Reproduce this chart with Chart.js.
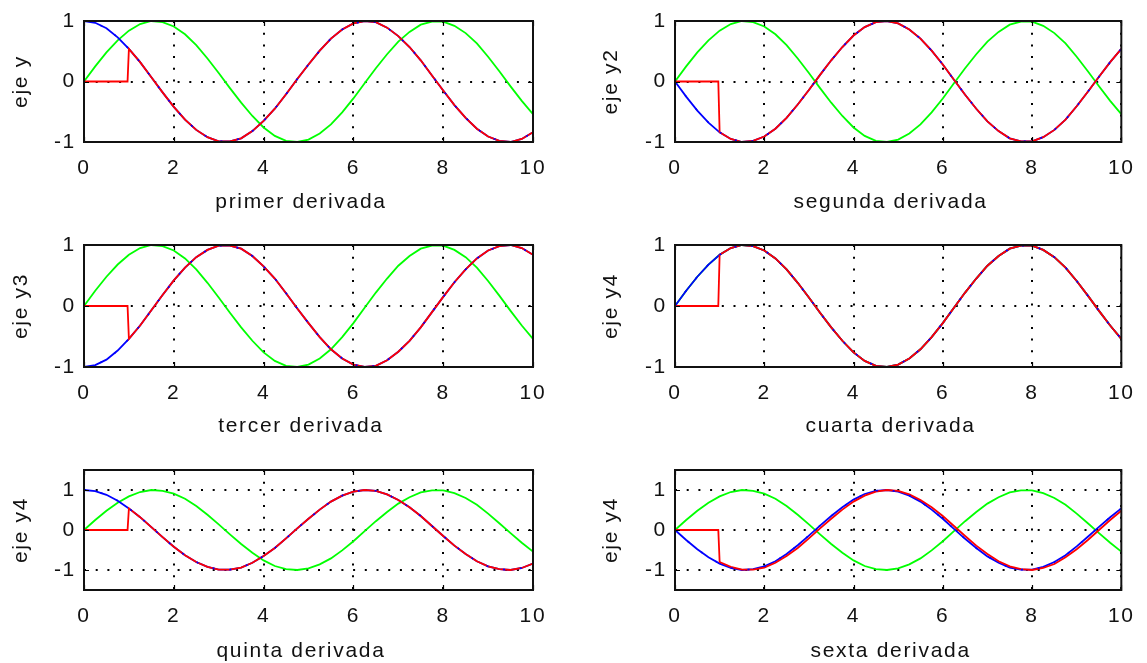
<!DOCTYPE html>
<html>
<head>
<meta charset="utf-8">
<title>derivadas</title>
<script src="https://cdn.jsdelivr.net/npm/chart.js@4.4.0/dist/chart.umd.min.js"></script>
<style>
  html, body { margin: 0; padding: 0; background: #fff; width: 1147px; height: 663px; overflow: hidden; }
  .panel { position: absolute; height: 224px; }
  .col-left { left: 0; width: 560px; }
  .col-right { left: 590px; width: 557px; }
</style>
</head>
<body>
<div class="panel col-left" style="top:0"><canvas id="c1"></canvas></div>
<div class="panel col-right" style="top:0"><canvas id="c2"></canvas></div>
<div class="panel col-left" style="top:224px"><canvas id="c3"></canvas></div>
<div class="panel col-right" style="top:224px"><canvas id="c4"></canvas></div>
<div class="panel col-left" style="top:449px"><canvas id="c5"></canvas></div>
<div class="panel col-right" style="top:449px"><canvas id="c6"></canvas></div>
<script>
// sample positions on the x axis (every 0.25)
const X_SAMPLES = [0, 0.25, 0.5, 0.75, 1, 1.25, 1.5, 1.75, 2, 2.25, 2.5, 2.75, 3, 3.25, 3.5, 3.75,
  4, 4.25, 4.5, 4.75, 5, 5.25, 5.5, 5.75, 6, 6.25, 6.5, 6.75, 7, 7.25, 7.5, 7.75,
  8, 8.25, 8.5, 8.75, 9, 9.25, 9.5, 9.75, 10];

// green curve (same in every panel)
const GREEN_WAVE = [0, 0.25, 0.48, 0.68, 0.84, 0.95, 1.00, 0.98, 0.91, 0.78, 0.60, 0.38, 0.14, -0.11, -0.35, -0.57,
  -0.76, -0.90, -0.98, -1.00, -0.96, -0.86, -0.71, -0.51, -0.28, -0.03, 0.22, 0.45, 0.66, 0.82, 0.94, 0.99,
  0.99, 0.92, 0.80, 0.63, 0.41, 0.17, -0.08, -0.32, -0.54];

// blue curves
const BLUE_COS = [1.00, 0.97, 0.88, 0.73, 0.54, 0.32, 0.07, -0.18, -0.42, -0.63, -0.80, -0.92, -0.99, -0.99, -0.94, -0.82,
  -0.65, -0.45, -0.21, 0.04, 0.28, 0.51, 0.71, 0.86, 0.96, 1.00, 0.98, 0.89, 0.75, 0.57, 0.35, 0.10,
  -0.15, -0.39, -0.60, -0.78, -0.91, -0.98, -1.00, -0.95, -0.84];
const BLUE_NEG_SIN = [0, -0.25, -0.48, -0.68, -0.84, -0.95, -1.00, -0.98, -0.91, -0.78, -0.60, -0.38, -0.14, 0.11, 0.35, 0.57,
  0.76, 0.90, 0.98, 1.00, 0.96, 0.86, 0.71, 0.51, 0.28, 0.03, -0.22, -0.45, -0.66, -0.82, -0.94, -0.99,
  -0.99, -0.92, -0.80, -0.63, -0.41, -0.17, 0.08, 0.32, 0.54];
const BLUE_NEG_COS = [-1.00, -0.97, -0.88, -0.73, -0.54, -0.32, -0.07, 0.18, 0.42, 0.63, 0.80, 0.92, 0.99, 0.99, 0.94, 0.82,
  0.65, 0.45, 0.21, -0.04, -0.28, -0.51, -0.71, -0.86, -0.96, -1.00, -0.98, -0.89, -0.75, -0.57, -0.35, -0.10,
  0.15, 0.39, 0.60, 0.78, 0.91, 0.98, 1.00, 0.95, 0.84];
const BLUE_SIN = [0, 0.25, 0.48, 0.68, 0.84, 0.95, 1.00, 0.98, 0.91, 0.78, 0.60, 0.38, 0.14, -0.11, -0.35, -0.57,
  -0.76, -0.90, -0.98, -1.00, -0.96, -0.86, -0.71, -0.51, -0.28, -0.03, 0.22, 0.45, 0.66, 0.82, 0.94, 0.99,
  0.99, 0.92, 0.80, 0.63, 0.41, 0.17, -0.08, -0.32, -0.54];

// red curves: zero until the step near x = 1
const RED_X = [0, 0.97, 1, 1.25, 1.5, 1.75, 2, 2.25, 2.5, 2.75, 3, 3.25, 3.5, 3.75,
  4, 4.25, 4.5, 4.75, 5, 5.25, 5.5, 5.75, 6, 6.25, 6.5, 6.75, 7, 7.25, 7.5, 7.75,
  8, 8.25, 8.5, 8.75, 9, 9.25, 9.5, 9.75, 10];
const RED_1 = [0, 0, 0.54, 0.32, 0.07, -0.18, -0.42, -0.63, -0.80, -0.92, -0.99, -0.99, -0.94, -0.82,
  -0.65, -0.45, -0.21, 0.04, 0.28, 0.51, 0.71, 0.86, 0.96, 1.00, 0.98, 0.89, 0.75, 0.57, 0.35, 0.10,
  -0.15, -0.39, -0.60, -0.78, -0.91, -0.98, -1.00, -0.95, -0.84];
const RED_2 = [0, 0, -0.84, -0.95, -1.00, -0.98, -0.91, -0.78, -0.60, -0.38, -0.14, 0.11, 0.35, 0.57,
  0.76, 0.90, 0.98, 1.00, 0.96, 0.86, 0.71, 0.51, 0.28, 0.03, -0.22, -0.45, -0.66, -0.82, -0.94, -0.99,
  -0.99, -0.92, -0.80, -0.63, -0.41, -0.17, 0.08, 0.32, 0.54];
const RED_3 = [0, 0, -0.54, -0.32, -0.07, 0.18, 0.42, 0.63, 0.80, 0.92, 0.99, 0.99, 0.94, 0.82,
  0.65, 0.45, 0.21, -0.04, -0.28, -0.51, -0.71, -0.86, -0.96, -1.00, -0.98, -0.89, -0.75, -0.57, -0.35, -0.10,
  0.15, 0.39, 0.60, 0.78, 0.91, 0.98, 1.00, 0.95, 0.84];
const RED_4 = [0, 0, 0.84, 0.95, 1.00, 0.98, 0.91, 0.78, 0.60, 0.38, 0.14, -0.11, -0.35, -0.57,
  -0.76, -0.90, -0.98, -1.00, -0.96, -0.86, -0.71, -0.51, -0.28, -0.03, 0.22, 0.45, 0.66, 0.82, 0.94, 0.99,
  0.99, 0.92, 0.80, 0.63, 0.41, 0.17, -0.08, -0.32, -0.54];
const RED_6 = [0, 0, -0.80, -0.92, -0.99, -0.99, -0.94, -0.82, -0.65, -0.45, -0.21, 0.04, 0.28, 0.51,
  0.71, 0.86, 0.96, 1.00, 0.98, 0.89, 0.75, 0.57, 0.35, 0.10, -0.15, -0.39, -0.60, -0.78, -0.91, -0.98,
  -1.00, -0.95, -0.85, -0.68, -0.48, -0.25, 0.00, 0.25, 0.48];

const X_TICKS = [0, 2, 4, 6, 8, 10];
const Y_TICKS = [-1, 0, 1];

const Y_TITLES = ["eje y", "eje y2", "eje y3", "eje y4", "eje y4", "eje y4"];
const X_TITLES = ["primer derivada", "segunda derivada", "tercer derivada",
  "cuarta derivada", "quinta derivada", "sexta derivada"];
const BLUE_BY_PANEL = [BLUE_COS, BLUE_NEG_SIN, BLUE_NEG_COS, BLUE_SIN, BLUE_COS, BLUE_NEG_SIN];
const RED_BY_PANEL = [RED_1, RED_2, RED_3, RED_4, RED_1, RED_6];
const Y_LIMITS = [[-1, 1], [-1, 1], [-1, 1], [-1, 1], [-1.5, 1.5], [-1.5, 1.5]];

Chart.defaults.font.family = '"Liberation Sans", Arial, sans-serif';
Chart.defaults.font.size = 21;
Chart.defaults.color = "#111";

// the old figure text is wide, spread the letters a bit
const wideText = {
  id: "wideText",
  beforeDraw(chart) {
    chart.ctx.letterSpacing = "1.7px";
  },
};

// matlab style box with inward ticks
const boxPlugin = {
  id: "matlabBox",
  afterDraw(chart) {
    const { ctx, chartArea: a, scales } = chart;
    const len = 5;
    ctx.save();
    ctx.strokeStyle = "#000";
    ctx.lineWidth = 1.2;
    ctx.beginPath();
    X_TICKS.forEach((v) => {
      const px = Math.round(scales.x.getPixelForValue(v)) + 0.5;
      ctx.moveTo(px, a.bottom); ctx.lineTo(px, a.bottom - len);
      ctx.moveTo(px, a.top); ctx.lineTo(px, a.top + len);
    });
    Y_TICKS.forEach((v) => {
      const py = Math.round(scales.y.getPixelForValue(v)) + 0.5;
      ctx.moveTo(a.left, py); ctx.lineTo(a.left + len, py);
      ctx.moveTo(a.right, py); ctx.lineTo(a.right - len, py);
    });
    ctx.stroke();
    ctx.lineWidth = 2;
    ctx.strokeStyle = "#111";
    ctx.strokeRect(a.left, a.top, a.right - a.left, a.bottom - a.top);
    ctx.restore();
  },
};

function toPoints(xs, ys) {
  return xs.map((x, i) => ({ x, y: ys[i] }));
}

function makePanel(i) {
  const isLeft = i % 2 === 0;
  const row = Math.floor(i / 2);
  const yAxisWidth = isLeft ? 84 : 85;
  const rightPad = isLeft ? 27 : 21;
  const xAxisHeight = [82, 81, 83][row];
  const [yMin, yMax] = Y_LIMITS[i];
  const blue = toPoints(X_SAMPLES, BLUE_BY_PANEL[i]);

  new Chart(document.getElementById("c" + (i + 1)), {
    type: "line",
    data: {
      datasets: [
        // specks of the blue line showing through the red one
        { label: "blue-specks", data: blue, borderColor: "#0000ff", borderWidth: 1.6, borderDash: [2, 15], order: 0 },
        { label: "red", data: toPoints(RED_X, RED_BY_PANEL[i]), borderColor: "#ff0000", order: 1 },
        { label: "blue", data: blue, borderColor: "#0000ff", order: 2 },
        { label: "green", data: toPoints(X_SAMPLES, GREEN_WAVE), borderColor: "#00ff00", order: 3 },
      ],
    },
    options: {
      responsive: true,
      maintainAspectRatio: false,
      animation: false,
      layout: { padding: { top: 21, right: rightPad, left: 0, bottom: 0 } },
      elements: {
        point: { radius: 0 },
        line: { borderWidth: 1.8, tension: 0, fill: false },
      },
      plugins: { legend: { display: false }, tooltip: { enabled: false } },
      scales: {
        x: {
          type: "linear",
          min: 0,
          max: 10,
          afterBuildTicks: (s) => { s.ticks = X_TICKS.map((v) => ({ value: v })); },
          afterFit: (s) => { s.height = xAxisHeight; },
          ticks: { padding: 14, maxRotation: 0 },
          grid: { color: "#000", lineWidth: 2, drawTicks: false },
          border: { display: false, dash: [2, 9.7] },
          // trailing spaces nudge the centred title a little to the left, as in the figure
          title: { display: true, text: X_TITLES[i] + "  ", padding: { top: 0, bottom: 9 } },
        },
        y: {
          min: yMin,
          max: yMax,
          afterBuildTicks: (s) => { s.ticks = Y_TICKS.map((v) => ({ value: v })); },
          afterFit: (s) => { s.width = yAxisWidth; },
          ticks: { padding: 8 },
          grid: { color: "#000", lineWidth: 2, drawTicks: false },
          border: { display: false, dash: [2, 9.7] },
          title: { display: true, text: Y_TITLES[i], padding: { top: 9, bottom: 0 } },
        },
      },
    },
    plugins: [wideText, boxPlugin],
  });
}

for (let i = 0; i < 6; i++) makePanel(i);
</script>
</body>
</html>
